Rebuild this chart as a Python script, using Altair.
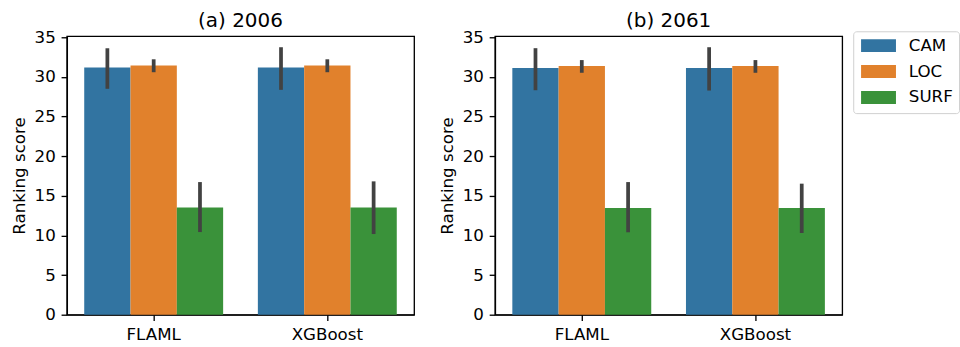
import altair as alt
import pandas as pd

models = ["FLAML", "XGBoost"]
features = ["CAM", "LOC", "SURF"]
colors = ["#3274a1", "#e1812c", "#3a923a"]

# panel (a) 2006 : means and CI bounds, order FLAML(CAM,LOC,SURF), XGBoost(CAM,LOC,SURF)
a_mean = [31.16, 31.41, 13.53, 31.16, 31.41, 13.53]
a_lo = [28.48, 30.57, 10.42, 28.35, 30.57, 10.17]
a_hi = [33.59, 32.20, 16.72, 33.72, 32.20, 16.81]
# panel (b) 2061
b_mean = [31.10, 31.35, 13.45, 31.10, 31.35, 13.45]
b_lo = [28.30, 30.50, 10.39, 28.26, 30.50, 10.30]
b_hi = [33.60, 32.10, 16.72, 33.72, 32.10, 16.52]

titles = ["(a) 2006", "(b) 2061"]
y_ticks = [0, 5, 10, 15, 20, 25, 30, 35]

FONT = "DejaVu Sans"


def make_df(mean, lo, hi):
    rows = []
    i = 0
    for m in models:
        for f in features:
            rows.append({"model": m, "feature": f, "score": mean[i], "lo": lo[i], "hi": hi[i]})
            i += 1
    return pd.DataFrame(rows)


def panel(df, title):
    xaxis = alt.Axis(title=None, labelAngle=0)
    yaxis = alt.Axis(title="Ranking score", values=y_ticks, labelOverlap=False)
    xs = alt.Scale(paddingInner=0.2, paddingOuter=0.1)
    ys = alt.Scale(domain=[0, 35.1], nice=False, zero=True)
    xo = alt.XOffset("feature:N", sort=features, scale=alt.Scale(paddingInner=0, paddingOuter=0))
    bars = alt.Chart(df).mark_bar(strokeWidth=0).encode(
        x=alt.X("model:N", sort=models, scale=xs, axis=xaxis),
        xOffset=xo,
        y=alt.Y("score:Q", scale=ys, axis=yaxis),
        color=alt.Color("feature:N", sort=features,
                        scale=alt.Scale(domain=features, range=colors),
                        legend=alt.Legend(title=None)),
    )
    errs = alt.Chart(df).mark_rule(color="#424242", strokeWidth=3.75).encode(
        x=alt.X("model:N", sort=models, scale=xs, axis=xaxis),
        xOffset=xo,
        y=alt.Y("lo:Q", scale=ys, axis=yaxis),
        y2="hi:Q",
    )
    return alt.layer(bars, errs).properties(
        width=348, height=279,
        title=alt.TitleParams(title, fontSize=20, font=FONT, fontWeight="normal",
                              color="black", offset=-1.5, anchor="middle"),
    )


chart = alt.hconcat(
    panel(make_df(a_mean, a_lo, a_hi), titles[0]),
    panel(make_df(b_mean, b_lo, b_hi), titles[1]),
    spacing=23,
).configure(
    padding={"left": 10, "top": 9, "right": 0, "bottom": 0},
    font=FONT,
).configure_view(
    stroke="black", strokeWidth=1.33
).configure_axis(
    labelFont=FONT, titleFont=FONT, labelFontSize=16.7, titleFontSize=16.7,
    titleFontWeight="normal", labelColor="black", titleColor="black",
    domainColor="black", domainWidth=1.33, tickColor="black", tickWidth=1.33,
    tickSize=5.8, labelPadding=5.8, titlePadding=6, grid=False,
).configure_legend(
    orient="none", legendX=788, legendY=-5,
    labelFont=FONT, labelFontSize=16.7, labelColor="black",
    symbolType="M-2.69,-1H2.69V1H-2.69Z", symbolSize=169, symbolStrokeWidth=0,
    symbolOffset=11, labelOffset=22, rowPadding=8, padding=6,
    strokeColor="#d0d0d0", cornerRadius=3, fillColor="white",
)

chart.save("out.html", embed_options={"renderer": "svg", "actions": False})
